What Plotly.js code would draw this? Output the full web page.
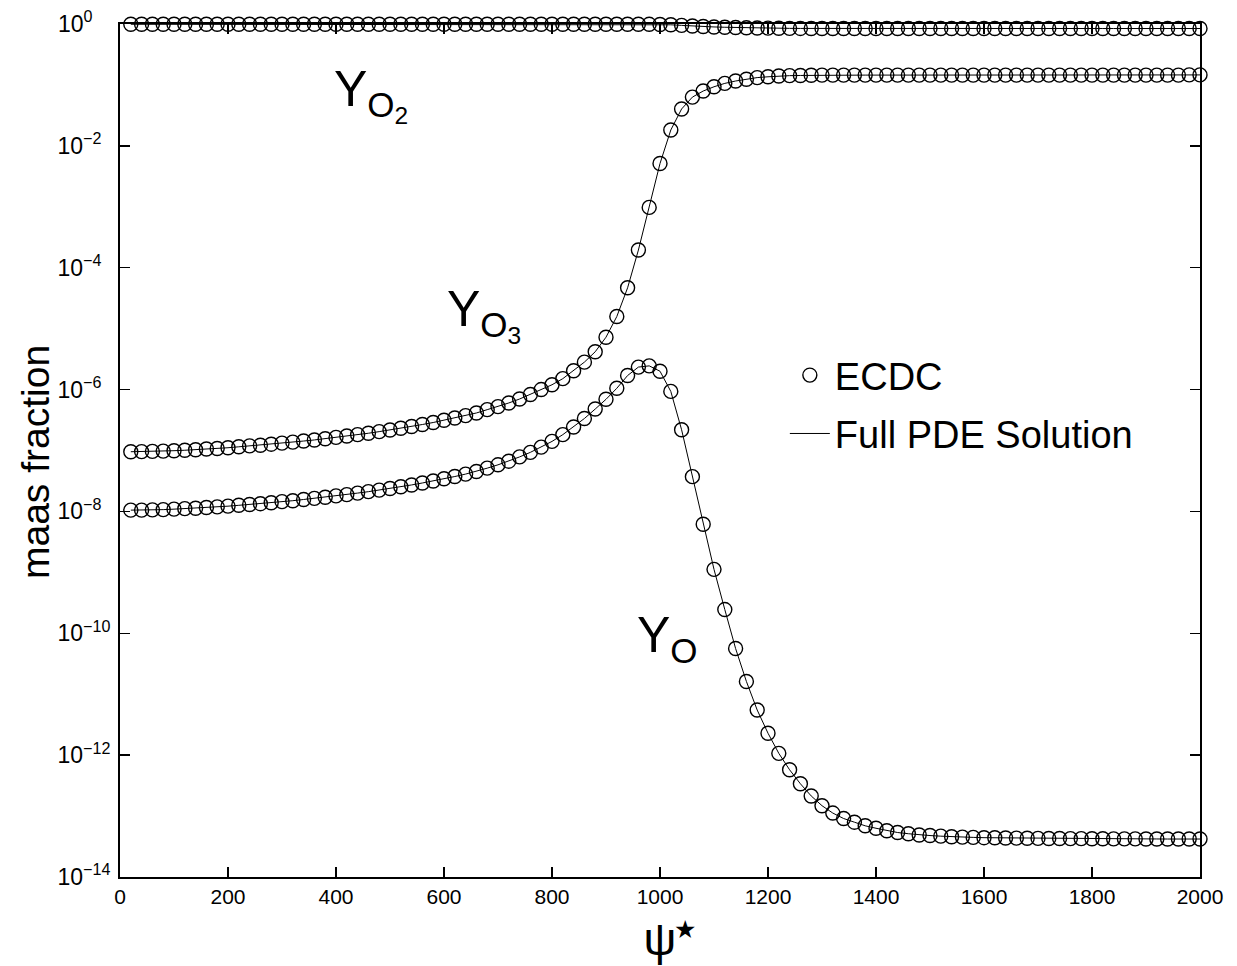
<!DOCTYPE html>
<html><head><meta charset="utf-8">
<script src="https://cdn.plot.ly/plotly-3.0.1.min.js"></script>
<style>html,body{margin:0;padding:0;background:#fff}#chart{width:1237px;height:966px}</style>
</head><body><div id="chart"></div>
<script>
const psi = [20,40,60,80,100,120,140,160,180,200,220,240,260,280,300,320,340,360,380,400,
  420,440,460,480,500,520,540,560,580,600,620,640,660,680,700,720,740,760,780,800,
  820,840,860,880,900,920,940,960,980,1000,1020,1040,1060,1080,1100,1120,1140,1160,1180,1200,
  1220,1240,1260,1280,1300,1320,1340,1360,1380,1400,1420,1440,1460,1480,1500,1520,1540,1560,1580,1600,
  1620,1640,1660,1680,1700,1720,1740,1760,1780,1800,1820,1840,1860,1880,1900,1920,1940,1960,1980,2000];

const yO2 = [0.99,0.99,0.99,0.99,0.99,0.99,0.99,0.99,0.99,0.99,
  0.99,0.99,0.99,0.99,0.99,0.99,0.99,0.99,0.99,0.99,
  0.99,0.99,0.99,0.99,0.99,0.99,0.99,0.99,0.99,0.99,
  0.99,0.99,0.99,0.99,0.99,0.99,0.99,0.99,0.99,0.99,
  0.99,0.99,0.99,0.99,0.99,0.99,0.99,0.989,0.988,0.983,
  0.97,0.95,0.925,0.91,0.895,0.884,0.874,0.866,0.86,0.855,
  0.851,0.848,0.846,0.845,0.844,0.844,0.844,0.844,0.844,0.844,
  0.843,0.843,0.843,0.843,0.843,0.843,0.843,0.843,0.843,0.843,
  0.843,0.843,0.843,0.843,0.843,0.843,0.843,0.843,0.843,0.843,
  0.843,0.843,0.843,0.843,0.843,0.843,0.843,0.843,0.843,0.843];

const yO3 = [9.55e-8,9.59e-8,9.66e-8,9.77e-8,9.93e-8,1.01e-7,1.03e-7,1.06e-7,1.08e-7,1.11e-7,
  1.15e-7,1.19e-7,1.22e-7,1.27e-7,1.32e-7,1.37e-7,1.43e-7,1.49e-7,1.56e-7,1.64e-7,
  1.73e-7,1.82e-7,1.92e-7,2.04e-7,2.17e-7,2.32e-7,2.48e-7,2.67e-7,2.88e-7,3.13e-7,
  3.41e-7,3.74e-7,4.13e-7,4.68e-7,5.25e-7,6.03e-7,7.0e-7,8.32e-7,1.0e-6,1.2e-6,
  1.51e-6,2.04e-6,2.82e-6,4.17e-6,7.24e-6,1.58e-5,4.68e-5,1.95e-4,9.77e-4,5.13e-3,
  1.82e-2,4.03e-2,6.31e-2,7.94e-2,9.33e-2,0.106,0.116,0.124,0.132,0.136,
  0.140,0.142,0.143,0.144,0.145,0.145,0.145,0.145,0.145,0.145,
  0.145,0.145,0.145,0.145,0.145,0.145,0.145,0.145,0.145,0.145,
  0.145,0.145,0.145,0.145,0.145,0.145,0.145,0.145,0.145,0.145,
  0.145,0.145,0.145,0.145,0.145,0.145,0.145,0.145,0.146,0.146];

const yO = [1.05e-8,1.05e-8,1.06e-8,1.07e-8,1.09e-8,1.11e-8,1.13e-8,1.16e-8,1.19e-8,1.22e-8,
  1.26e-8,1.30e-8,1.34e-8,1.39e-8,1.45e-8,1.50e-8,1.57e-8,1.64e-8,1.71e-8,1.80e-8,
  1.89e-8,2.00e-8,2.11e-8,2.24e-8,2.38e-8,2.54e-8,2.72e-8,2.93e-8,3.16e-8,3.43e-8,
  3.74e-8,4.10e-8,4.53e-8,5.13e-8,5.82e-8,6.68e-8,7.85e-8,9.33e-8,1.135e-7,1.41e-7,
  1.82e-7,2.43e-7,3.35e-7,4.79e-7,6.92e-7,1.05e-6,1.70e-6,2.34e-6,2.45e-6,2.0e-6,
  9.33e-7,2.19e-7,3.72e-8,6.17e-9,1.12e-9,2.45e-10,5.62e-11,1.62e-11,5.50e-12,2.29e-12,
  1.07e-12,5.75e-13,3.39e-13,2.14e-13,1.48e-13,1.12e-13,9.12e-14,7.94e-14,6.92e-14,6.31e-14,
  5.75e-14,5.37e-14,5.13e-14,4.90e-14,4.79e-14,4.68e-14,4.57e-14,4.52e-14,4.47e-14,4.42e-14,
  4.40e-14,4.37e-14,4.35e-14,4.33e-14,4.31e-14,4.29e-14,4.28e-14,4.27e-14,4.26e-14,4.25e-14,
  4.24e-14,4.23e-14,4.22e-14,4.22e-14,4.21e-14,4.21e-14,4.2e-14,4.2e-14,4.2e-14,4.2e-14];

const xTickVals = [0,200,400,600,800,1000,1200,1400,1600,1800,2000];
const yTickVals = [1,1e-2,1e-4,1e-6,1e-8,1e-10,1e-12,1e-14];
const NB = '\u00A0';
const yTickText = ['10<sup>0' + NB.repeat(4) + '</sup>', '10<sup>\u22122' + NB.repeat(2) + '</sup>',
  '10<sup>\u22124' + NB.repeat(2) + '</sup>', '10<sup>\u22126' + NB.repeat(2) + '</sup>',
  '10<sup>\u22128' + NB.repeat(2) + '</sup>', '10<sup>\u221210</sup>',
  '10<sup>\u221212</sup>', '10<sup>\u221214</sup>'];
const markerName = 'ECDC';
const lineName = 'Full PDE Solution';
const curves = [yO2, yO3, yO];

const FONT = 'Liberation Sans, Arial, Helvetica, sans-serif';
const traces = [];
curves.forEach((ys, i) => {
  traces.push({x: psi, y: ys, type: 'scatter', mode: 'lines', name: lineName,
    legendgroup: 'pde', line: {color: '#000', width: 1}, showlegend: i === 0, legendrank: 2,
    hoverinfo: 'skip'});
});
curves.forEach((ys, i) => {
  traces.push({x: psi, y: ys, type: 'scatter', mode: 'markers', name: markerName,
    legendgroup: 'ecdc',
    marker: {symbol: 'circle-open', size: 14, color: '#000', line: {width: 1.4, color: '#000'}},
    cliponaxis: false, showlegend: i === 0, legendrank: 1});
});

const layout = {
  width: 1237, height: 966,
  margin: {l: 120, r: 37, t: 24, b: 89},
  paper_bgcolor: '#fff', plot_bgcolor: '#fff',
  font: {family: FONT, color: '#000', size: 21},
  showlegend: true,
  xaxis: {range: [0, 2000], tickvals: xTickVals, ticks: 'inside', ticklen: 10, tickwidth: 1.5,
    tickcolor: '#000', showline: true, linewidth: 2, linecolor: '#000', mirror: 'ticks',
    showgrid: false, zeroline: false, tickfont: {size: 21, family: FONT},
    title: {text: '\u03C8', font: {size: 46, family: FONT}, standoff: 16}},
  yaxis: {type: 'log', range: [-14, 0], tickvals: yTickVals, ticktext: yTickText,
    ticks: 'inside', ticklen: 10, tickwidth: 1.5, tickcolor: '#000', showline: true,
    linewidth: 2, linecolor: '#000', mirror: 'ticks', showgrid: false, zeroline: false,
    tickfont: {size: 23, family: FONT}, ticklabelstandoff: 3},
  legend: {x: 0.6156, y: 0.625, xanchor: 'left', yanchor: 'top', font: {size: 38, family: FONT},
    bgcolor: 'rgba(0,0,0,0)', itemwidth: 40, traceorder: 'grouped', tracegroupgap: 6},
  annotations: [
    {xref: 'paper', yref: 'paper', x: -0.0787, y: 0.4865, xanchor: 'center', yanchor: 'middle',
      showarrow: false, textangle: -90, text: 'maas fraction', font: {size: 39, family: FONT}},
    {xref: 'paper', yref: 'paper', x: 0.5235, y: -0.0615, xanchor: 'center', yanchor: 'middle',
      showarrow: false, text: '\u2605', font: {size: 25, family: FONT}},
    {xref: 'paper', yref: 'paper', x: 0.196, y: 0.959, xanchor: 'left', showarrow: false,
      text: 'Y<sub>O<sub>2</sub></sub>', font: {size: 50, family: FONT}},
    {xref: 'paper', yref: 'paper', x: 0.337, y: 0.659, xanchor: 'center', showarrow: false,
      text: 'Y<sub>O<sub>3</sub></sub>', font: {size: 50, family: FONT}},
    {xref: 'paper', yref: 'paper', x: 0.507, y: 0.2403, xanchor: 'center', showarrow: false,
      text: 'Y<sub>O</sub>', font: {size: 50, family: FONT}}
  ]
};

Plotly.newPlot('chart', traces, layout, {displayModeBar: false, staticPlot: true});
</script></body></html>
